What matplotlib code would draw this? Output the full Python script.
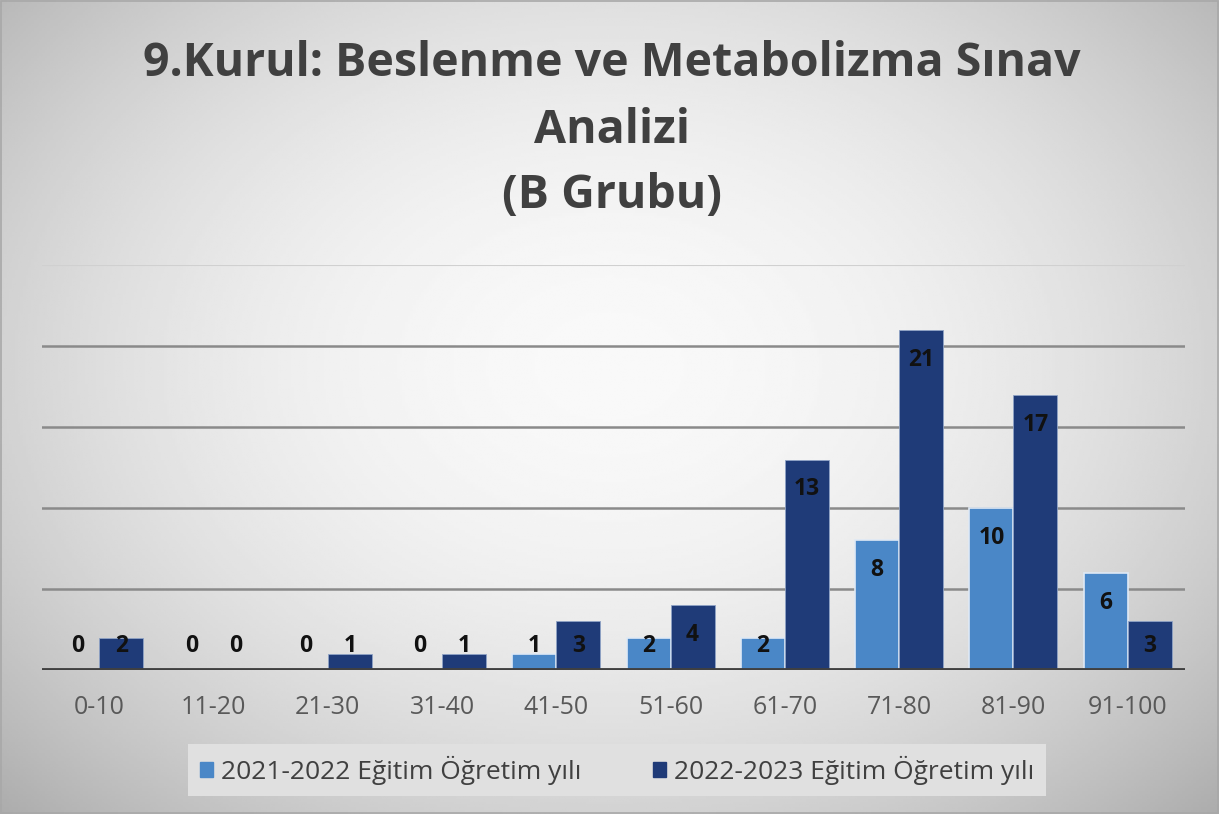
import numpy as np
import matplotlib.pyplot as plt
from matplotlib.patches import Rectangle

# veriler
kategoriler = ['0-10', '11-20', '21-30', '31-40', '41-50', '51-60', '61-70', '71-80', '81-90', '91-100']
yil_2021_2022 = [0, 0, 0, 0, 1, 2, 2, 8, 10, 6]
yil_2022_2023 = [2, 0, 1, 1, 3, 4, 13, 21, 17, 3]
seri_adlari = ['2021-2022 Eğitim Öğretim yılı', '2022-2023 Eğitim Öğretim yılı']
renkler = ['#4a87c7', '#1f3b78']

plt.rcParams['font.family'] = ['Open Sans', 'DejaVu Sans']

fig = plt.figure(figsize=(12.19, 8.14), dpi=100)

# arka plan: radyal gecis
bg = fig.add_axes([0, 0, 1, 1], zorder=-10)
yy, xx = np.mgrid[0:1:300j, 0:1:450j]
r = np.sqrt(((xx - 0.5) / 0.5) ** 2 + ((yy - 0.45) / 0.55) ** 2)
deger = 0.975 - 0.15 * r ** 2
bg.imshow(deger, cmap='gray', vmin=0, vmax=1, aspect='auto', extent=[0, 1, 0, 1])
bg.add_patch(Rectangle((0.001, 0.001), 0.998, 0.998, fill=False, ec='#a8a8a8', lw=1.2))
bg.set_xlim(0, 1)
bg.set_ylim(0, 1)
bg.axis('off')

ax = fig.add_axes([0.0345, 0.177, 0.9375, 0.497])
ax.set_facecolor('none')

x = np.arange(len(kategoriler))
w = 0.385
ax.bar(x - w / 2, yil_2021_2022, w, color=renkler[0], edgecolor='#dfe9f5', linewidth=1.2, zorder=3)
ax.bar(x + w / 2, yil_2022_2023, w, color=renkler[1], edgecolor='#8fa3c6', linewidth=0.6, zorder=3)

# veri etiketleri
for xs, vals in [(x - w / 2, yil_2021_2022), (x + w / 2, yil_2022_2023)]:
    for xi, v in zip(xs, vals):
        ax.text(xi, max(v - 1.85, 1.5), str(v), ha='center', va='center',
                fontsize=16.5, fontweight='bold', color='#111111', zorder=5)

ax.set_xlim(-0.5, len(kategoriler) - 0.5)
ax.set_ylim(0, 25)
for g in [5, 10, 15, 20]:
    ax.axhline(g, color='#8a8a8a', lw=1.8, zorder=1)
ax.axhline(25, color='#d0d0d0', lw=1.5, zorder=1)
ax.axhline(0, color='#404040', lw=3.5, zorder=4)

ax.set_xticks(x)
ax.set_xticklabels(kategoriler, fontsize=18, color='#595959')
ax.tick_params(axis='x', length=0, pad=18)
ax.set_yticks([])
for s in ax.spines.values():
    s.set_visible(False)

fig.text(0.502, 0.922, '9.Kurul: Beslenme ve Metabolizma Sınav', ha='center', va='center',
         fontsize=33.5, fontweight='bold', color='#404040')
fig.text(0.502, 0.840, 'Analizi', ha='center', va='center',
         fontsize=33.5, fontweight='bold', color='#404040')
fig.text(0.502, 0.760, '(B Grubu)', ha='center', va='center',
         fontsize=33.5, fontweight='bold', color='#404040')

tutamaclar = [Rectangle((0, 0), 1, 1, color=c) for c in renkler]
leg = fig.legend(tutamaclar, seri_adlari, loc='center', bbox_to_anchor=(0.506, 0.054), ncol=2,
                 fontsize=19, handlelength=0.5, handleheight=0.5, handletextpad=0.3,
                 columnspacing=2.7, borderpad=0.45, frameon=True, fancybox=False)
leg.get_frame().set_facecolor('#e0e0e0')
leg.get_frame().set_edgecolor('none')
leg.get_frame().set_alpha(1)
for t in leg.get_texts():
    t.set_color('#404040')

fig.savefig('out.png', dpi=100)
